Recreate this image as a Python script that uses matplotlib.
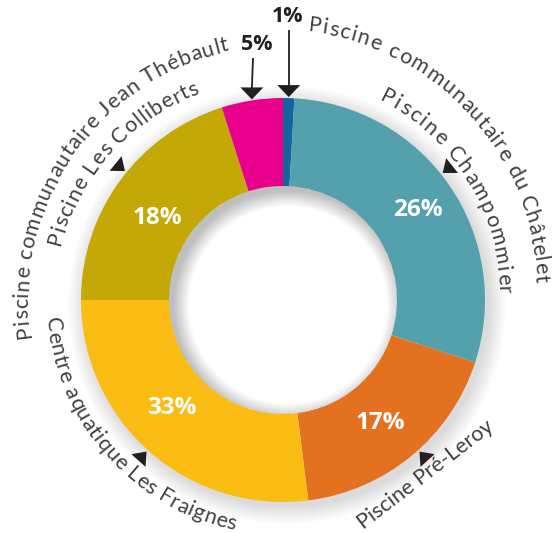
import numpy as np
import matplotlib
matplotlib.use("Agg")
import matplotlib.pyplot as plt
from matplotlib.patches import Circle, Wedge, Polygon
from matplotlib.font_manager import FontProperties

# ---- data ----
pools = [
    "Piscine communautaire du Châtelet",
    "Piscine Champommier",
    "Piscine Pré-Leroy",
    "Centre aquatique Les Fraignes",
    "Piscine Les Colliberts",
    "Piscine communautaire Jean Thébault",
]
pct_labels = ["1%", "26%", "17%", "33%", "18%", "5%"]
# size of each slice as it is drawn on the ring (percent of the full turn)
arc_share = [0.9, 29.1, 18.0, 27.0, 20.1, 4.9]
slice_colors = ["#12659F", "#55A0AD", "#E3711F", "#FBBD14", "#C4A805", "#E8008C"]

# ---- layout (pixels, y up) ----
W, H = 552, 533
CX, CY = 283, 233
R_OUT, R_IN = 202, 114
TXT = "#404040"
ARROW = "#231f20"
LABEL_FONT = ["Lato", "DejaVu Sans"]
BOLD_FONT = ["Open Sans", "DejaVu Sans"]

fig = plt.figure(figsize=(W / 100, H / 100), dpi=100)
ax = fig.add_axes([0, 0, 1, 1])

# soft drop shadow under the ring (annuli, so the hole stays white)
for k in range(18):
    ax.add_patch(Wedge((CX + 4, CY - 5), R_OUT + k * 1.0, 0, 360,
                       width=R_OUT + k * 1.0 - R_IN - 25,
                       color="k", alpha=0.009, lw=0, zorder=0.5))

wedges, _ = ax.pie(arc_share, colors=slice_colors, startangle=90,
                   counterclock=False, radius=R_OUT, center=(CX, CY),
                   wedgeprops=dict(width=R_OUT - R_IN, linewidth=0))

# inner shadow in the hole
hole = Circle((CX, CY), R_IN, transform=ax.transData)
for k in range(16):
    w = Wedge((CX + 5, CY - 5), R_IN + 40, 0, 360, width=40 + k,
              color="k", alpha=0.014, lw=0, zorder=2)
    ax.add_patch(w)
    w.set_clip_path(hole)

# slice angles
cum = np.concatenate([[0], np.cumsum(arc_share)])
a_start = 90 - 3.6 * cum[:-1]
a_end = 90 - 3.6 * cum[1:]
a_mid = (a_start + a_end) / 2

# percentages inside the ring: (angle shift from slice middle, radius)
inner_pos = {1: (-0.6, 162), 2: (-1.3, 157), 3: (-4.4, 155), 4: (3.2, 150)}
for i, (da, r) in inner_pos.items():
    am = np.radians(a_mid[i] + da)
    ax.text(CX + r * np.cos(am), CY + r * np.sin(am),
            pct_labels[i], color="white", fontsize=17.5, fontweight="bold",
            family=BOLD_FONT, ha="center", va="center", zorder=3)


def radial_tri(ang, r_tip, r_base, half_w):
    u = np.array([np.cos(np.radians(ang)), np.sin(np.radians(ang))])
    t = np.array([-u[1], u[0]])
    c = np.array([CX, CY])
    tip = c + r_tip * u
    b = c + r_base * u
    ax.add_patch(Polygon([tip, b + half_w * t, b - half_w * t], closed=True,
                         color=ARROW, lw=0, zorder=4))


# small markers next to the named slices
marker_angles = {1: 38.5, 2: -48, 3: -132, 4: 140.8}
for i, ang in marker_angles.items():
    radial_tri(ang, 204, 216, 9.5)

# arrows for the two thin slices
small_text_pos = {0: (288, 516), 5: (257, 488)}
for i, (tx, ty) in small_text_pos.items():
    am = np.radians(a_mid[i])
    tip = (CX + (R_OUT + 1) * np.cos(am), CY + (R_OUT + 1) * np.sin(am))
    ax.add_patch(Polygon([tip, (tip[0] - 11.5, tip[1] + 12), (tip[0] + 11.5, tip[1] + 12)],
                         closed=True, color=ARROW, lw=0, zorder=4))
    ax.plot([tx - 4 if i == 5 else tip[0], tip[0]], [ty - 13, tip[1] + 11],
            color=ARROW, lw=1.3, zorder=4, solid_capstyle="butt")
    ax.text(tx, ty, pct_labels[i], color=ARROW, fontsize=15.5, fontweight="bold",
            family=BOLD_FONT, ha="center", va="center", zorder=4)

# ---- curved names ----
fig.canvas.draw()
ren = fig.canvas.get_renderer()
name_fp = FontProperties(family=LABEL_FONT, weight="normal", size=15.5)


def char_centers(text, fp):
    def wid(s):
        return ren.get_text_width_height_descent("|" + s + "|", fp, ismath=False)[0]
    base = wid("")
    acc = [wid(text[:i]) - base for i in range(len(text) + 1)]
    return [(acc[i] + acc[i + 1]) / 2 for i in range(len(text))]


def arc_text(text, a0, a1, r0, r1, clockwise, fp=name_fp):
    cs = char_centers(text, fp)
    cs = [c - cs[0] for c in cs]
    n = len(text)
    span = abs(np.radians(a1 - a0)) * (r0 + r1) / 2
    extra = (span - cs[-1]) / (n - 1)
    for i, ch in enumerate(text):
        if ch == " ":
            continue
        frac = (cs[i] + extra * i) / span
        r = r0 + (r1 - r0) * frac
        a = a0 + (a1 - a0) * frac
        rot = a - 90 if clockwise else a + 90
        ax.text(CX + r * np.cos(np.radians(a)), CY + r * np.sin(np.radians(a)), ch,
                fontproperties=fp, color=TXT, rotation=rot, rotation_mode="anchor",
                ha="center", va="baseline", zorder=4)


arc_text(pools[0], 83.4, 4.8, 270, 253, True)
arc_text(pools[1], 62.7, 2.6, 222, 215, True)
arc_text(pools[3], 186, 257.0, 238, 235, False)
arc_text(pools[4], 164.8, 113, 229, 223, True)
arc_text(pools[5], 187, 103, 255, 255, True)
ax.text(426, H - 475, pools[2], fontproperties=name_fp,
        color=TXT, rotation=37.5, rotation_mode="anchor", ha="center", va="center", zorder=4)

ax.set_xlim(0, W)
ax.set_ylim(0, H)
ax.set_aspect("equal")
ax.axis("off")
fig.savefig("out.png", dpi=100, facecolor="white")
